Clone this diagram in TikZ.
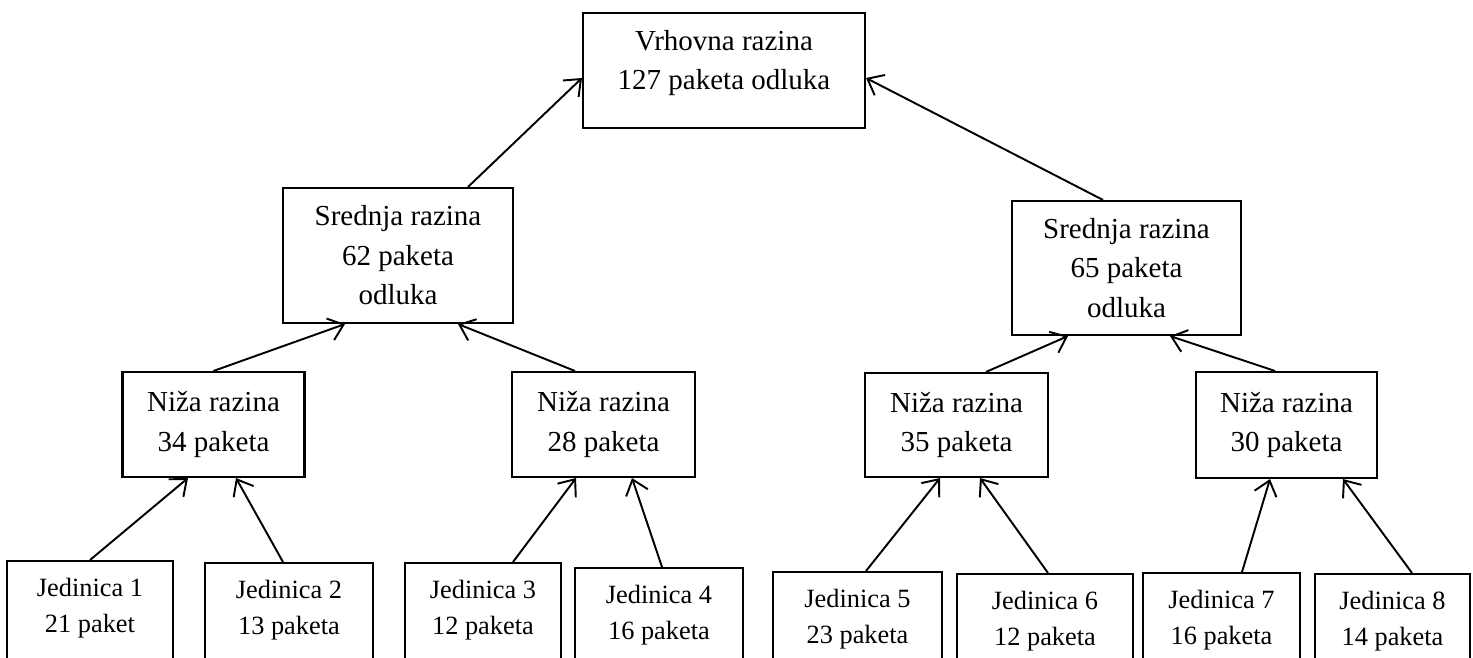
\documentclass[tikz,border=0pt]{standalone}
\usepackage{fontspec}
\setmainfont{Liberation Serif}
\usetikzlibrary{arrows.meta}

\begin{document}
\begin{tikzpicture}[x=0.02cm,y=-0.02cm,
    razina/.style={draw,line width=1.2pt,align=center,
      font=\fontsize{16.5}{22.5}\selectfont},
    jedinica/.style={draw,line width=1.2pt,align=center,anchor=north,
      inner ysep=9.5pt,text depth=70pt,
      font=\fontsize{15}{21}\selectfont},
    veza/.style={->,line width=1.1pt},
    >={Straight Barb[length=8pt,width=13pt]}]
  \useasboundingbox (0,0) rectangle (1473,658);
  \clip (0,0) rectangle (1473,658);
  % razine
  \node[razina,minimum width=5.64cm,minimum height=2.30cm,text depth=12pt] (vrh)
    at (724,70.5) {Vrhovna razina\\127 paketa odluka};
  \node[razina,minimum width=4.60cm,minimum height=2.70cm] (srL) at (398,255.5)
    {Srednja razina\\62 paketa\\odluka};
  \node[razina,minimum width=4.58cm,minimum height=2.68cm] (srD) at (1126.5,268)
    {Srednja razina\\65 paketa\\odluka};
  \node[razina,minimum width=3.64cm,minimum height=2.10cm] (niA) at (213.5,424.5)
    {Niža razina\\34 paketa};
  \node[razina,minimum width=3.66cm,minimum height=2.10cm] (niB) at (603.5,424.5)
    {Niža razina\\28 paketa};
  \node[razina,minimum width=3.66cm,minimum height=2.08cm] (niC) at (956.5,425)
    {Niža razina\\35 paketa};
  \node[razina,minimum width=3.62cm,minimum height=2.12cm] (niD) at (1286.5,425)
    {Niža razina\\30 paketa};
  % jedinice
  \node[jedinica,minimum width=3.32cm] (j1) at (90,560) {Jedinica 1\\21 paket};
  \node[jedinica,minimum width=3.36cm] (j2) at (289,562) {Jedinica 2\\13 paketa};
  \node[jedinica,minimum width=3.12cm] (j3) at (483,562) {Jedinica 3\\12 paketa};
  \node[jedinica,minimum width=3.36cm] (j4) at (659,567) {Jedinica 4\\16 paketa};
  \node[jedinica,minimum width=3.38cm] (j5) at (857.5,571) {Jedinica 5\\23 paketa};
  \node[jedinica,minimum width=3.52cm] (j6) at (1045,573) {Jedinica 6\\12 paketa};
  \node[jedinica,minimum width=3.14cm] (j7) at (1221.5,572) {Jedinica 7\\16 paketa};
  \node[jedinica,minimum width=3.10cm] (j8) at (1392.5,573) {Jedinica 8\\14 paketa};
  % veze
  \draw[veza] ([xshift=1.40cm]srL.north) -- ([yshift=-0.15cm]vrh.west);
  \draw[veza] ([xshift=-0.47cm]srD.north) -- ([yshift=-0.15cm]vrh.east);
  \draw[veza] (niA.north) -- ([xshift=-1.06cm]srL.south);
  \draw[veza] ([xshift=-0.57cm]niB.north) -- ([xshift=1.20cm]srL.south);
  \draw[veza] ([xshift=0.59cm]niC.north) -- ([xshift=-1.17cm]srD.south);
  \draw[veza] ([xshift=-0.23cm]niD.north) -- ([xshift=0.87cm]srD.south);
  \draw[veza] (j1.north) -- ([xshift=-0.51cm]niA.south);
  \draw[veza] ([xshift=-0.12cm]j2.north) -- ([xshift=0.45cm]niA.south);
  \draw[veza] ([xshift=0.60cm]j3.north) -- ([xshift=-0.55cm]niB.south);
  \draw[veza] ([xshift=0.06cm]j4.north) -- ([xshift=0.57cm]niB.south);
  \draw[veza] ([xshift=0.17cm]j5.north) -- ([xshift=-0.33cm]niC.south);
  \draw[veza] ([xshift=0.06cm]j6.north) -- ([xshift=0.47cm]niC.south);
  \draw[veza] ([xshift=0.41cm]j7.north) -- ([xshift=-0.33cm]niD.south);
  \draw[veza] ([xshift=0.39cm]j8.north) -- ([xshift=1.13cm]niD.south);
\end{tikzpicture}
\end{document}
